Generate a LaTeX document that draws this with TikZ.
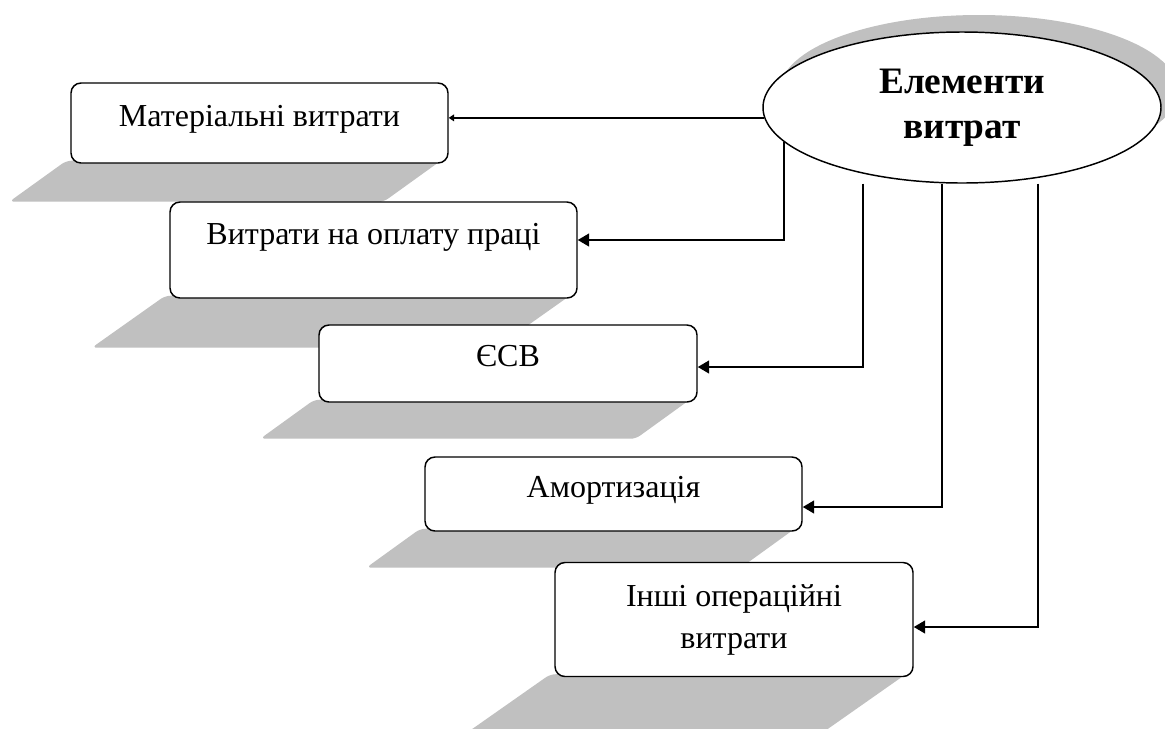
\documentclass[tikz,border=0pt]{standalone}
\usepackage{fontspec}
\setmainfont{Liberation Serif}
\usepackage{tikz}
\usetikzlibrary{shapes,calc,shadows,backgrounds,arrows.meta}
\definecolor{ombre}{HTML}{C0C0C0}
\tikzset{
  boite/.style={draw=black, line width=1.1pt, rounded corners=7.5pt, fill=white,
    inner sep=0pt, align=center, font=\fontsize{24}{31.5}\selectfont},
  ligne/.style={boite, text height=16pt, text depth=11pt},
  fleche/.style={draw=black, line width=1.5pt, -{Triangle[length=8.5pt,width=9.5pt]}},
}
% Ombre au sol sous une boite : #1 = noeud, #2 = profondeur.
\newcommand{\ombresol}[2]{%
  \fill[ombre, rounded corners=4pt]
    ($(#1.south west)+(-4,-3)$) -- ($(#1.south east)+(-8,-3)$)
    -- ++({-1.5*#2},{#2+3}) -- ($(#1.south west)+({-4-1.5*#2},#2)$) -- cycle;}

\begin{document}
\begin{tikzpicture}[x=0.75pt, y=-0.75pt]
  \useasboundingbox (0,0) rectangle (1165,729);

  % Ellipse.
  \node[ellipse, draw=black, line width=1.1pt, fill=white,
        minimum width=298.5pt, minimum height=113.25pt, inner sep=0pt,
        align=center, font=\fontsize{28}{33.75}\selectfont\bfseries,
        drop shadow={shadow xshift=12.75pt, shadow yshift=12.75pt, fill=ombre, opacity=1}]
        (el) at (962,107.5) {Елементи\\витрат};

  % Boites.
  \node[ligne, minimum width=282.75pt, minimum height=60pt] (b1) at (259.5,123) {Матеріальні витрати};
  \node[ligne, minimum width=305.25pt, minimum height=72pt, text depth=24pt] (b2) at (373.5,250) {Витрати на оплату праці};
  \node[ligne, minimum width=283.5pt, minimum height=57.75pt] (b3) at (508,363.5) {ЄСВ};
  \node[ligne, minimum width=282.75pt, minimum height=55.5pt] (b4) at (613.5,494) {Амортизація};
  \node[boite, minimum width=268.5pt, minimum height=85.5pt] (b5) at (734,619.5) {Інші операційні\\витрати};

  % Ombres.
  \begin{pgfonlayer}{background}
    \fill[white] (0,0) rectangle (1165,729);
    \ombresol{b1}{38}
    \ombresol{b2}{49}
    \ombresol{b3}{36}
    \ombresol{b4}{36}
    \ombresol{b5}{57}
  \end{pgfonlayer}

  % Liaisons.
  \coordinate (d3) at ($(el.south)+(-99,0)$);
  \coordinate (d4) at ($(el.south)+(-20,0)$);
  \coordinate (d5) at ($(el.south)+(76,0)$);
  \draw[fleche, -{Triangle[length=4pt,width=5pt]}] (el.183) -- (el.183 -| b1.east);
  \draw[fleche] (el.191) |- ($(b2.east)+(0,-10)$);
  \draw[fleche] (d3) |- ($(b3.east)+(0,3.5)$);
  \draw[fleche] (d4) |- ($(b4.east)+(0,13)$);
  \draw[fleche] (d5) |- ($(b5.east)+(0,7.5)$);
\end{tikzpicture}
\end{document}
